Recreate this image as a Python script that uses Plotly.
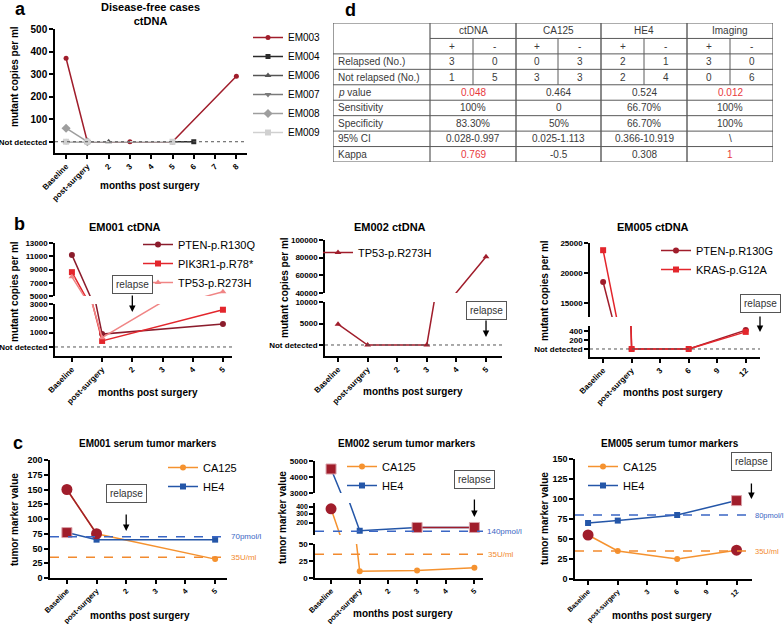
import math
import plotly.graph_objects as go

W, H = 784, 624
FONT = "Liberation Sans"

# ---------------- data ----------------
A_CATS = ["Baseline", "post-surgery", "2", "3", "4", "5", "6", "7", "8"]
em003_x = ["Baseline", "post-surgery", "3", "5", "8"]
em003_y = [370, 0, 0, 0, 290]
em004_x = ["post-surgery", "5", "6"]
em004_y = [0, 0, 0]
em006_x = ["Baseline", "post-surgery", "2"]
em006_y = [0, 0, 0]
em007_x = ["Baseline", "post-surgery"]
em007_y = [0, 0]
em008_x = ["Baseline", "post-surgery"]
em008_y = [60, 0]
em009_x = ["Baseline", "post-surgery", "5"]
em009_y = [0, 0, 0]

B_CATS = ["Baseline", "post-surgery", "2", "3", "4", "5"]
B3_CATS = ["Baseline", "post-surgery", "3", "6", "9", "12"]

b1_x = ["Baseline", "post-surgery", "5"]
b1_pten = [11200, 900, 1600]
b1_pik3r1 = [8600, 420, 2600]
b1_tp53 = [7900, 650, 5650]

b2_x = ["Baseline", "post-surgery", "3", "5"]
b2_tp53 = [4850, 0, 0, 81000]

b3_x = ["Baseline", "post-surgery", "6", "12"]
b3_pten = [18500, 0, 0, 420]
b3_kras = [23800, 0, 0, 380]

c1_x = ["Baseline", "post-surgery", "5"]
c1_ca125 = [150, 75, 32]
c1_ca125_high = [True, True, False]
c1_he4 = [77, 65, 65]
c1_he4_high = [True, False, False]

c2_x = ["Baseline", "post-surgery", "3", "5"]
c2_ca125 = [370, 10, 11, 15]
c2_ca125_high = [True, False, False, False]
c2_he4 = [4500, 143, 165, 165]
c2_he4_high = [True, False, True, True]

c3_x = ["Baseline", "post-surgery", "6", "12"]
c3_ca125 = [55, 35, 25, 36]
c3_ca125_high = [True, False, False, True]
c3_he4 = [70, 73, 80, 98]
c3_he4_high = [False, False, False, True]

c1_thr = {"HE4": 70, "CA125": 35}
c2_thr = {"HE4": 140, "CA125": 35}
c3_thr = {"HE4": 80, "CA125": 35}

# table
tab_groups = ["ctDNA", "CA125", "HE4", "Imaging"]
tab_rows = ["Relapsed (No.)", "Not relapsed (No.)", "<i>p</i> value", "Sensitivity",
            "Specificity", "95% CI", "Kappa"]
tab_relapsed = ["3", "0", "0", "3", "2", "1", "3", "0"]
tab_not_relapsed = ["1", "5", "3", "3", "2", "4", "0", "6"]
tab_p = ["0.048", "0.464", "0.524", "0.012"]
tab_sens = ["100%", "0", "66.70%", "100%"]
tab_spec = ["83.30%", "50%", "66.70%", "100%"]
tab_ci = ["0.028-0.997", "0.025-1.113", "0.366-10.919", "\\"]
tab_kappa = ["0.769", "-0.5", "0.308", "1"]
tab_p_sig = [True, False, False, True]
tab_kappa_sig = [True, False, False, True]

# ---------------- styles ----------------
DARK = "#a01d2b"
RED = "#e3262c"
PINK = "#f08585"
ORANGE = "#f5922f"
BLUE = "#2456a8"
BLUE_D = "#3a66c4"
ORANGE_D = "#f28a2e"
ND = "Not detected"


def X(p):
    return p / W


def Y(p):
    return 1 - p / H


def xdom(a, b):
    return [a / W, b / W]


def ydom(top, bot):
    return [1 - bot / H, 1 - top / H]


fig = go.Figure()
layout = {}
anns = []
shapes = []


def xaxis(name, dom, anchor, cats, rng, size=8):
    layout[name] = dict(domain=dom, anchor=anchor, type="category", categoryorder="array",
                        categoryarray=cats, range=rng, showline=True, linecolor="black",
                        linewidth=1.5, ticks="outside", ticklen=4, tickwidth=1.5,
                        tickcolor="black", tickangle=-45, showgrid=False, zeroline=False,
                        automargin=False,
                        tickfont=dict(family=FONT, size=size, color="black", weight="bold"))


def yaxis(name, dom, anchor, rng, tickvals, ticktext=None, size=8, typ="linear"):
    layout[name] = dict(domain=dom, anchor=anchor, type=typ, range=rng, tickvals=tickvals,
                        ticktext=ticktext if ticktext else [str(v) for v in tickvals],
                        showline=True, linecolor="black", linewidth=1.5, ticks="outside",
                        ticklen=4, tickwidth=1.5, tickcolor="black", showgrid=False,
                        zeroline=False, automargin=False,
                        tickfont=dict(family=FONT, size=size, color="black", weight="bold"))


def series(xs, ys, xa, ya, color, symbol, name=None, legend=None, show=False, size=6, width=1.5):
    fig.add_trace(go.Scatter(x=xs, y=ys, xaxis=xa, yaxis=ya, mode="lines+markers",
                             name=name, legend=legend, showlegend=show,
                             line=dict(color=color, width=width),
                             marker=dict(symbol=symbol, size=size, color=color),
                             hoverinfo="skip"))


def highlight(xs, ys, flags, xa, ya, symbol):
    hy = [v if f else None for v, f in zip(ys, flags)]
    if symbol == "circle":
        mk = dict(symbol="circle", size=11, color=DARK)
    else:
        mk = dict(symbol="square", size=10, color=DARK, line=dict(color="#d9a0a8", width=1))
    fig.add_trace(go.Scatter(x=xs, y=hy, xaxis=xa, yaxis=ya, mode="lines+markers",
                             showlegend=False, connectgaps=False,
                             line=dict(color=DARK, width=1.5), marker=mk, hoverinfo="skip"))


def text(t, x, y, size, bold=False, color="black", xanchor="center", angle=0):
    anns.append(dict(text=t, x=X(x), y=Y(y), xref="paper", yref="paper", showarrow=False,
                     xanchor=xanchor, yanchor="middle", textangle=angle,
                     font=dict(family=FONT, size=size, color=color,
                               weight="bold" if bold else "normal")))


def relapse(xref, xidx, box_y, tail, tip):
    anns.append(dict(text="relapse", x=xidx, xref=xref, y=Y(box_y), yref="paper",
                     showarrow=False, bordercolor="#555", borderwidth=1, borderpad=3,
                     bgcolor="white", font=dict(family=FONT, size=10, color="#333")))
    anns.append(dict(text="", x=xidx, xref=xref, y=Y(tip), yref="paper", showarrow=True,
                     ax=0, ay=-(tip - tail), arrowhead=2, arrowsize=1, arrowwidth=1.3,
                     arrowcolor="black"))


def nd_line(xref, yref):
    shapes.append(dict(type="line", xref=xref + " domain", yref=yref, x0=0, x1=1, y0=0, y1=0,
                       line=dict(color="#555", width=1, dash="dot")))


def thr_line(xref, yref, val, color):
    shapes.append(dict(type="line", xref=xref + " domain", yref=yref, x0=0, x1=1.0,
                       y0=val, y1=val, line=dict(color=color, width=1.5, dash="dash")))


def thr_label(t, xpx, yref, val, color, size=8):
    anns.append(dict(text=t, x=X(xpx), xref="paper", y=val, yref=yref, showarrow=False,
                     xanchor="left", yanchor="middle",
                     font=dict(family=FONT, size=size, color=color)))


# ---------------- panel a ----------------
xaxis("xaxis", xdom(55, 247), "y", A_CATS, [-0.52, 8.5])
yaxis("yaxis", ydom(29, 153), "x", [-50, 500], [0, 100, 200, 300, 400, 500],
      ['<span style="font-size:8px">Not detected</span>', "100", "200", "300", "400", "500"],
      size=10)
nd_line("x", "y")
series(em003_x, em003_y, "x", "y", DARK, "circle", "EM003", "legend", True, size=5)
series(em004_x, em004_y, "x", "y", "#2b2b2b", "square", "EM004", "legend", True, size=5)
series(em006_x, em006_y, "x", "y", "#555555", "triangle-up", "EM006", "legend", True, size=6)
series(em007_x, em007_y, "x", "y", "#7a7a7a", "triangle-down", "EM007", "legend", True, size=6)
series(em008_x, em008_y, "x", "y", "#9e9e9e", "diamond", "EM008", "legend", True, size=7)
series(em009_x, em009_y, "x", "y", "#d0d0d0", "square", "EM009", "legend", True, size=6)

# ---------------- table d ----------------
layout["xaxis2"] = dict(domain=xdom(333, 773), anchor="y2", range=[0, 440], visible=False)
layout["yaxis2"] = dict(domain=ydom(23, 162), anchor="x2", range=[9, 0], visible=False)
col_edges = [0, 97, 140, 183, 225, 268, 311, 354, 397, 440]
LC = "#5a5a5a"
for i, xe in enumerate(col_edges):
    if xe in (0, 97, 440):
        shapes.append(dict(type="line", xref="x2", yref="y2", x0=xe, x1=xe, y0=0, y1=9,
                           line=dict(color=LC, width=1.2)))
    elif i % 2 == 1:
        shapes.append(dict(type="line", xref="x2", yref="y2", x0=xe, x1=xe, y0=0, y1=9,
                           line=dict(color="#8a8a8a", width=2)))
    else:
        shapes.append(dict(type="line", xref="x2", yref="y2", x0=xe, x1=xe, y0=1, y1=4,
                           line=dict(color=LC, width=1)))
for r in range(10):
    shapes.append(dict(type="line", xref="x2", yref="y2", x0=97 if r == 1 else 0, x1=440,
                       y0=r, y1=r, line=dict(color=LC, width=1.2 if r in (0, 9) else 1)))

TF = dict(family=FONT, size=10, color="#3a3a3a")
TRED = "#e8383d"


def cell(t, x, row, color=None, xanchor="center"):
    f = dict(TF)
    if color:
        f["color"] = color
    anns.append(dict(text=t, x=x, y=row + 0.5, xref="x2", yref="y2", showarrow=False,
                     xanchor=xanchor, yanchor="middle", font=f))


group_centers = [(col_edges[1 + 2 * g] + col_edges[3 + 2 * g]) / 2 for g in range(4)]
sub_centers = [(col_edges[1 + k] + col_edges[2 + k]) / 2 for k in range(8)]
for g, name in enumerate(tab_groups):
    cell(name, group_centers[g], 0)
for k in range(8):
    cell("+" if k % 2 == 0 else "-", sub_centers[k], 1)
    cell(tab_relapsed[k], sub_centers[k], 2)
    cell(tab_not_relapsed[k], sub_centers[k], 3)
for r, lab in enumerate(tab_rows):
    cell(lab, 3, r + 2, xanchor="left")
for g in range(4):
    cell(tab_p[g], group_centers[g], 4, TRED if tab_p_sig[g] else None)
    cell(tab_sens[g], group_centers[g], 5)
    cell(tab_spec[g], group_centers[g], 6)
    cell(tab_ci[g], group_centers[g], 7)
    cell(tab_kappa[g], group_centers[g], 8, TRED if tab_kappa_sig[g] else None)

# ---------------- panel b1 ----------------
xaxis("xaxis3", xdom(55, 232), "y3", B_CATS, [-0.56, 5.3])
yaxis("yaxis3", ydom(304, 356), "x3", [-630, 3000], [0, 1000, 2000, 3000],
      [ND, "1000", "2000", "3000"])
yaxis("yaxis4", ydom(243, 296), "x3", [5000, 13000], [5000, 7000, 9000, 11000, 13000])
nd_line("x3", "y3")
for ya, show in (("y4", True), ("y3", False)):
    series(b1_x, b1_pten, "x3", ya, "#8b1c2c", "circle", "PTEN-p.R130Q", "legend2", show)
    series(b1_x, b1_pik3r1, "x3", ya, RED, "square", "PIK3R1-p.R78*", "legend2", show)
    series(b1_x, b1_tp53, "x3", ya, PINK, "triangle-up", "TP53-p.R273H", "legend2", show)
relapse("x3", 2, 284.5, 294, 312)

# ---------------- panel b2 ----------------
xaxis("xaxis4", xdom(325, 502), "y5", B_CATS, [-0.44, 5.54])
yaxis("yaxis5", ydom(302, 356), "x4", [-2560, 10000], [0, 5000, 10000], [ND, "5000", "10000"])
yaxis("yaxis6", ydom(240, 293), "x4", [40000, 100000], [40000, 60000, 80000, 100000])
nd_line("x4", "y5")
for ya, show in (("y6", True), ("y5", False)):
    series(b2_x, b2_tp53, "x4", ya, DARK, "triangle-up", "TP53-p.R273H", "legend3", show)
relapse("x4", 5, 310.5, 319, 337)

# ---------------- panel b3 ----------------
xaxis("xaxis5", xdom(590, 760), "y7", B3_CATS, [-0.46, 5.5])
yaxis("yaxis7", ydom(326, 357), "x5", [-178, 511], [0, 200, 400], [ND, "200", "400"])
yaxis("yaxis8", ydom(243, 317), "x5", [12667, 25000], [15000, 20000, 25000])
nd_line("x5", "y7")
for ya, show in (("y8", True), ("y7", False)):
    series(b3_x, b3_pten, "x5", ya, DARK, "circle", "PTEN-p.R130G", "legend4", show)
    series(b3_x, b3_kras, "x5", ya, RED, "square", "KRAS-p.G12A", "legend4", show)
relapse("x5", 5.5, 303.5, 315, 332)

# ---------------- panel c1 ----------------
xaxis("xaxis6", xdom(50, 227), "y9", B_CATS, [-0.57, 5.4], size=7.5)
yaxis("yaxis9", ydom(460, 578), "x6", [0, 200], list(range(0, 201, 25)), size=9)
thr_line("x6", "y9", c1_thr["HE4"], BLUE_D)
thr_line("x6", "y9", c1_thr["CA125"], ORANGE_D)
thr_label("70pmol/l", 229, "y9", c1_thr["HE4"], BLUE_D)
thr_label("35U/ml", 229, "y9", c1_thr["CA125"], ORANGE_D)
series(c1_x, c1_ca125, "x6", "y9", ORANGE, "circle", "CA125", "legend5", True)
series(c1_x, c1_he4, "x6", "y9", BLUE, "square", "HE4", "legend5", True)
highlight(c1_x, c1_ca125, c1_ca125_high, "x6", "y9", "circle")
highlight(c1_x, c1_he4, c1_he4_high, "x6", "y9", "square")
relapse("x6", 2, 503, 513, 531)

# ---------------- panel c2 ----------------
xaxis("xaxis7", xdom(315, 483), "y10", B_CATS, [-0.56, 5.3], size=7.5)
yaxis("yaxis10", ydom(544, 578), "x7", [0, 50], [0, 25, 50], size=8)
yaxis("yaxis11", ydom(503, 535), "x7", [math.log10(119), math.log10(476)], [200, 300, 400],
      size=7, typ="log")
yaxis("yaxis12", ydom(461, 493), "x7", [3000, 5000], [3000, 4000, 5000], size=8)
thr_line("x7", "y11", c2_thr["HE4"], BLUE_D)
thr_line("x7", "y10", c2_thr["CA125"], ORANGE_D)
thr_label("140pmol/l", 485, "y11", math.log10(c2_thr["HE4"]), BLUE_D)
thr_label("35U/ml", 486, "y10", c2_thr["CA125"], ORANGE_D)
for ya, show in (("y12", True), ("y11", False), ("y10", False)):
    series(c2_x, c2_ca125, "x7", ya, ORANGE, "circle", "CA125", "legend6", show)
    series(c2_x, c2_he4, "x7", ya, BLUE, "square", "HE4", "legend6", show)
    highlight(c2_x, c2_ca125, c2_ca125_high, "x7", ya, "circle")
    highlight(c2_x, c2_he4, c2_he4_high, "x7", ya, "square")
relapse("x7", 5, 488.5, 498, 517)

# ---------------- panel c3 ----------------
xaxis("xaxis8", xdom(575, 752), "y13", B3_CATS, [-0.44, 5.52], size=7)
yaxis("yaxis13", ydom(459, 579), "x8", [0, 150], list(range(0, 151, 25)), size=9)
thr_line("x8", "y13", c3_thr["HE4"], BLUE_D)
thr_line("x8", "y13", c3_thr["CA125"], ORANGE_D)
thr_label("80pmol/l", 753, "y13", c3_thr["HE4"], BLUE_D, size=7.5)
thr_label("35U/ml", 753, "y13", c3_thr["CA125"], ORANGE_D, size=7.5)
series(c3_x, c3_ca125, "x8", "y13", ORANGE, "circle", "CA125", "legend7", True)
series(c3_x, c3_he4, "x8", "y13", BLUE, "square", "HE4", "legend7", True)
highlight(c3_x, c3_ca125, c3_ca125_high, "x8", "y13", "circle")
highlight(c3_x, c3_he4, c3_he4_high, "x8", "y13", "square")
relapse("x8", 5.5, 471, 482, 499)

# ---------------- text ----------------
text("a", 20, 9, 18, True)
text("b", 19, 224, 18, True)
text("c", 18, 443, 18, True)
text("d", 350, 10, 18, True)
text("Disease-free cases<br>ctDNA", 150, 14, 11, True)
text("EM001 ctDNA", 125, 227, 11, True)
text("EM002 ctDNA", 390, 227, 11, True)
text("EM005 ctDNA", 653, 227, 11, True)
text("EM001 serum tumor markers", 148, 443, 10, True)
text("EM002 serum tumor markers", 407, 443, 10, True)
text("EM005 serum tumor markers", 670, 443, 10, True)
for (xx, yy) in ((14, 77), (14, 292), (284, 288), (544, 291)):
    text("mutant copies per ml", xx, yy, 10, True, angle=-90)
for (xx, yy) in ((14, 520), (282, 518), (544, 519)):
    text("tumor marker value", xx, yy, 10, True, angle=-90)
for (xx, yy) in ((150, 185), (148, 392), (413, 391), (673, 392), (140, 615), (403, 613), (662, 615)):
    text("months post surgery", xx, yy, 10, True)

# ---------------- legends ----------------
def legend(x, y, size=11):
    return dict(x=X(x), y=Y(y), xanchor="left", yanchor="top", bgcolor="rgba(0,0,0,0)",
                borderwidth=0, itemwidth=30, tracegroupgap=0,
                font=dict(family=FONT, size=size, color="black"))


layout["legend"] = legend(248, 23, 10)
layout["legend2"] = legend(138, 230)
layout["legend3"] = legend(318, 238)
layout["legend4"] = legend(656, 236)
layout["legend5"] = legend(163, 453)
layout["legend6"] = legend(342, 452)
layout["legend7"] = legend(583, 452)

fig.update_layout(width=W, height=H, margin=dict(l=0, r=0, t=0, b=0, autoexpand=False),
                  paper_bgcolor="white", plot_bgcolor="white",
                  annotations=anns, shapes=shapes, **layout)
fig.write_html("out.html", config={"displayModeBar": False},
               post_script="document.body.style.margin='0px';"
                           "document.body.style.overflow='hidden';")
